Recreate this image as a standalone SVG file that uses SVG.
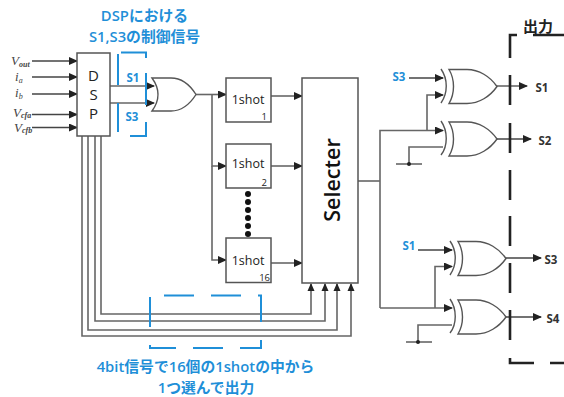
<svg xmlns="http://www.w3.org/2000/svg" width="564" height="397" viewBox="0 0 564 397">
<style>
.w{fill:none;stroke:#444;stroke-width:1.3}
.g{fill:none;stroke:#666;stroke-width:1.6}
.box{fill:#fff;stroke:#555;stroke-width:1.5}
.gate{fill:#fff;stroke:#555;stroke-width:1.4}
.back{fill:none;stroke:#555;stroke-width:1.4}
.bl{fill:none;stroke:#1f8fd8;stroke-width:2}
.dash{fill:none;stroke:#222;stroke-width:2.6}
text{font-family:"Open Sans","Liberation Sans","Noto Sans CJK JP",sans-serif}
.jp{fill:#1f8fd8;font-weight:600;font-size:14.8px;text-anchor:middle}
.lb{fill:#1f8fd8;font-weight:700;font-size:11.5px;text-anchor:middle}
.ou{fill:#333;font-weight:700;font-size:11.5px;text-anchor:middle}
.sh{fill:#222;font-size:12.5px;font-weight:500;text-anchor:middle}
.n{fill:#222;font-size:9.5px;text-anchor:end}
.m{fill:#444;font-family:"Liberation Serif",serif;font-style:italic;font-size:13px}
.m tspan{font-size:8px}
</style>
<defs>
<marker id="a" markerUnits="userSpaceOnUse" markerWidth="9" markerHeight="8" refX="8" refY="4" orient="auto"><path d="M0 0L9 4L0 8Z" fill="#222"/></marker>
<path id="xor" d="M0 0H18C30 0 41 7 48 17C41 27 30 34 18 34H0C6 24 6 10 0 0Z"/>
</defs>
<g id="connectors">
<path class="w" marker-end="url(#a)" d="M32 61H77"/>
<path class="w" marker-end="url(#a)" d="M32 77H77"/>
<path class="w" marker-end="url(#a)" d="M32 94H77"/>
<path class="w" marker-end="url(#a)" d="M32 114.500H77"/>
<path class="w" marker-end="url(#a)" d="M32 127.500H77"/>
<path class="g" marker-end="url(#a)" d="M110 86H154"/>
<path class="g" marker-end="url(#a)" d="M110 103H154"/>
<path class="g" d="M82 136V336H351V284"/>
<path class="g" d="M88 136V330H337V284"/>
<path class="g" d="M95 136V321H325V284"/>
<path class="g" d="M101 136V314H311V284"/>
<path d="M351 283l-3.500 8h7zM337 283l-3.500 8h7zM325 283l-3.500 8h7zM311 283l-3.500 8h7z" fill="#222"/>
<path class="g" marker-end="url(#a)" d="M196 94.500H226"/>
<path class="g" marker-end="url(#a)" d="M212 94.500V166H226"/>
<path class="g" marker-end="url(#a)" d="M212 166V260H226"/>
<path class="w" marker-end="url(#a)" d="M271 96H302"/>
<path class="w" marker-end="url(#a)" d="M271 166H302"/>
<path class="w" marker-end="url(#a)" d="M271 263H302"/>
<path class="g" d="M358 181H380"/>
<path class="g" marker-end="url(#a)" d="M380 308V130.500H443"/>
<path class="g" marker-end="url(#a)" d="M427 130.500V95H443"/>
<path class="w" marker-end="url(#a)" d="M409 78H443"/>
<path class="g" d="M443 147H409V164"/>
<path class="g" d="M396 164H422"/>
<circle cx="409" cy="164" r="2" fill="#222"/>
<path class="g" marker-end="url(#a)" d="M380 308H452"/>
<path class="g" marker-end="url(#a)" d="M435 308V266.500H452"/>
<path class="w" marker-end="url(#a)" d="M418 250H452"/>
<path class="g" d="M452 325H418V342"/>
<path class="g" d="M406 342H432"/>
<circle cx="418" cy="342" r="2" fill="#222"/>
<path class="w" marker-end="url(#a)" d="M497 86H527"/>
<path class="w" marker-end="url(#a)" d="M497 139H531"/>
<path class="w" marker-end="url(#a)" d="M506 258H541"/>
<path class="w" marker-end="url(#a)" d="M506 317H541"/>
</g>
<g id="dsp"><rect class="box" x="77" y="53" width="33" height="83"/>
<text class="sh" style="font-size:15px" x="93.500" y="80.500">D</text><text class="sh" style="font-size:15px" x="93.500" y="99.500">S</text><text class="sh" style="font-size:15px" x="93.500" y="118.500">P</text></g>
<g id="inputs">
<text class="m" x="11" y="65">V<tspan dy="2" font-weight="700">out</tspan></text>
<text class="m" x="15" y="81">i<tspan dy="2">a</tspan></text>
<text class="m" x="15" y="97">i<tspan dy="2">b</tspan></text>
<text class="m" x="13" y="117">V<tspan dy="1" font-weight="700">cfa</tspan></text>
<text class="m" x="14" y="131.500">V<tspan dy="1" font-weight="700">cfb</tspan></text>
</g>
<g id="or"><path class="gate" d="M152 78H171C182 78 190 85 196 94.500C190 104 182 111 171 111H152C160 100 160 89 152 78Z"/></g>
<g id="shot1"><rect class="box" x="226" y="78" width="45" height="44"/><text class="sh" x="248" y="104">1shot</text><text class="n" x="267" y="120">1</text></g>
<g id="shot2"><rect class="box" x="226" y="144" width="45" height="44"/><text class="sh" x="248" y="168">1shot</text><text class="n" x="267" y="186">2</text></g>
<g id="shot16"><rect class="box" x="226" y="238" width="45" height="44.500"/><text class="sh" x="248" y="265">1shot</text><text class="n" x="270" y="281">16</text></g>
<g id="dots" fill="#111"><circle cx="248" cy="194" r="3"/><circle cx="248" cy="202" r="3"/><circle cx="248" cy="210" r="3"/><circle cx="248" cy="218" r="3"/><circle cx="248" cy="226" r="3"/><circle cx="248" cy="234" r="3"/></g>
<g id="selecter"><rect class="box" x="302" y="78" width="56" height="205"/><text transform="translate(339.500 180) rotate(-90)" text-anchor="middle" font-size="21.500" font-weight="600" fill="#111">Selecter</text></g>
<g id="xor1"><use href="#xor" class="gate" x="449" y="69.500"/><path class="back" d="M441 69C448 79 448 93 441 103"/></g>
<g id="xor2"><use href="#xor" class="gate" x="449" y="122"/><path class="back" d="M441 121C448 131 448 146 441 155"/></g>
<g id="xor3"><use href="#xor" class="gate" x="458" y="241.500"/><path class="back" d="M450 241C457 251 457 265 450 275"/></g>
<g id="xor4"><use href="#xor" class="gate" x="458" y="300"/><path class="back" d="M450 299C457 309 457 324 450 333"/></g>
<g id="blue-marks">
<path class="bl" d="M118 54V85M118 103V132M121 52.500H146V58M146 73V105M146 122V136H130"/>
<path class="bl" d="M150 297V327M164 295.500H194M211 295.500H241M258 295.500H261V322M261 340V348H240M223 348H193M176 348H150V345"/>
</g>
<g id="output-frame"><path class="dash" d="M517 35H510V58M510 75V105M510 123V153M510 170V200M510 216V246M510 263V293M510 310V340M510 358V363H534M550 363H564M533 35H564"/></g>
<g id="labels">
<text class="jp" x="144.500" y="21">DSPにおける</text>
<text class="jp" x="144.500" y="42">S1,S3の制御信号</text>
<text class="lb" x="133" y="82">S1</text>
<text class="lb" x="132" y="121">S3</text>
<text class="lb" x="399" y="81">S3</text>
<text class="lb" x="409" y="250">S1</text>
<text class="ou" x="542" y="92">S1</text>
<text class="ou" x="545" y="145">S2</text>
<text class="ou" x="551" y="264">S3</text>
<text class="ou" x="553" y="323">S4</text>
<text x="538" y="32" text-anchor="middle" font-size="15" font-weight="600" fill="#222">出力</text>
<text class="jp" x="205.500" y="372">4bit信号で16個の1shotの中から</text>
<text class="jp" x="206" y="393">1つ選んで出力</text>
</g>
</svg>
